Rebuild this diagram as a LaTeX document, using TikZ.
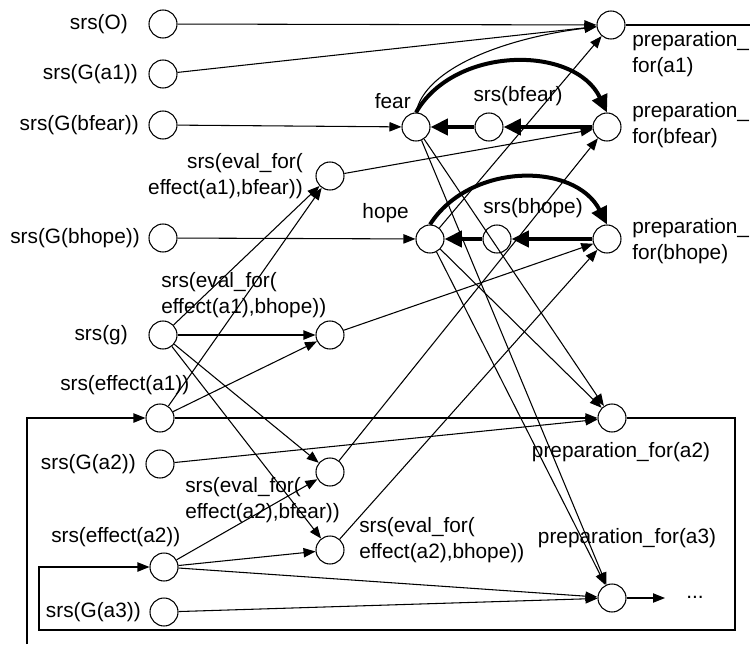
\documentclass[tikz,border=0pt]{standalone}
\usepackage{fontspec}
\setmainfont{Liberation Sans}
\usetikzlibrary{arrows.meta}
\begin{document}
\begin{tikzpicture}[x=0.75pt,y=-0.75pt,
  st/.style={circle,draw,line width=0.8pt,minimum size=21pt,inner sep=0pt},
  lbl/.style={inner sep=0pt,font=\fontsize{15.6}{19.5}\selectfont},
  conn/.style={line width=0.8pt,-{Triangle[length=9pt,width=7pt]}},
  strong/.style={line width=3pt,-{Triangle[length=13pt,width=12pt]}},
  wire/.style={line width=0.8pt}]
\useasboundingbox (0,0) rectangle (750,644);

% state nodes
\node[st] (O)    at (163,24)  {};
\node[st] (Ga1)  at (163,74)  {};
\node[st] (Gbf)  at (163,125) {};
\node[st] (E1f)  at (330,176) {};
\node[st] (Gbh)  at (163,238) {};
\node[st] (g)    at (163,335) {};
\node[st] (E1h)  at (330,335) {};
\node[st] (eff1) at (160,418) {};
\node[st] (Ga2)  at (160,464) {};
\node[st] (E2f)  at (330,472) {};
\node[st] (E2h)  at (330,550) {};
\node[st] (eff2) at (164,567) {};
\node[st] (Ga3)  at (164,612) {};
\node[st] (fear) at (416,127) {};
\node[st] (sbf)  at (489,127) {};
\node[st] (pbf)  at (607,127) {};
\node[st] (pa1)  at (611,25)  {};
\node[st] (hope) at (430,239) {};
\node[st] (sbh)  at (497,239) {};
\node[st] (pbh)  at (607,239) {};
\node[st] (pa2)  at (612,418) {};
\node[st] (pa3)  at (612,598) {};

% labels
\node[lbl,anchor=east] (tO)   at (128,24)  {srs(O)};
\node[lbl,anchor=east] (tGa1) at (138,74)  {srs(G(a1))};
\node[lbl,anchor=east] (tGbf) at (139,125) {srs(G(bfear))};
\node[lbl,anchor=east,align=right] (tE1f) at (303,176) {srs(eval\_for(\\effect(a1),bfear))};
\node[lbl,anchor=east] (tGbh) at (140,238) {srs(G(bhope))};
\node[lbl,anchor=west,align=left] (tE1h) at (161,295) {srs(eval\_for(\\effect(a1),bhope))};
\node[lbl,anchor=east] (tg)   at (128,335) {srs(g)};
\node[lbl,anchor=west] (teff1) at (60,385) {srs(effect(a1))};
\node[lbl,anchor=east] (tGa2) at (136,464) {srs(G(a2))};
\node[lbl,anchor=west,align=left] (tE2f) at (185,500) {srs(eval\_for(\\effect(a2),bfear))};
\node[lbl,anchor=west] (teff2) at (51,537) {srs(effect(a2))};
\node[lbl,anchor=west,align=left] (tE2h) at (359,540) {srs(eval\_for(\\effect(a2),bhope))};
\node[lbl,anchor=east] (tGa3) at (141,612) {srs(G(a3))};
\node[lbl,anchor=east] (tfear) at (411,101) {fear};
\node[lbl] (tsbf) at (518,96) {srs(bfear)};
\node[lbl,anchor=east] (thope) at (409,213) {hope};
\node[lbl] (tsbh) at (533,208) {srs(bhope)};
\node[lbl,anchor=west,align=left] (tpa1) at (632,54)  {preparation\_\\for(a1)};
\node[lbl,anchor=west,align=left] (tpbf) at (632,125) {preparation\_\\for(bfear)};
\node[lbl,anchor=west,align=left] (tpbh) at (632,241) {preparation\_\\for(bhope)};
\node[lbl] (tpa2) at (621,452) {preparation\_for(a2)};
\node[lbl] (tpa3) at (627,538) {preparation\_for(a3)};
\node[lbl] (tdots) at (695,597) {...};

% free ends and bends
\coordinate (outR) at (750,25);
\coordinate (inB)  at (27,644);
\coordinate (lpR)  at (735,418);
\coordinate (lpRB) at (735,630);
\coordinate (lpLB) at (39,630);
\coordinate (lpL)  at (39,567);
\coordinate (dots) at (665,598);

% sensor inputs
\draw[conn] (O) -- (pa1);
\draw[conn] (Ga1) -- (pa1);
\draw[conn] (Gbf) -- (fear);
\draw[conn] (Gbh) -- (hope);
\draw[conn] (Ga2) -- (pa2);
\draw[conn] (Ga3) -- (pa3);

% fear / hope loops
\draw[conn] (fear.north) .. controls (425,68) and (505,38) .. (pa1);
\draw[strong] (fear.north) .. controls (455,45) and (575,45) .. (pbf.north);
\draw[strong] (pbf) -- (sbf);
\draw[strong] (sbf) -- (fear);
\draw[strong] (hope.north) .. controls (470,162) and (575,162) .. (pbh.north);
\draw[strong] (pbh) -- (sbh);
\draw[strong] (sbh) -- (hope);

% evaluations
\draw[conn] (g) -- (E1f);
\draw[conn] (g) -- (E1h);
\draw[conn] (g) -- (E2f);
\draw[conn] (g) -- (E2h);
\draw[conn] (eff1) -- (E1f);
\draw[conn] (eff1) -- (E1h);
\draw[conn] (eff2) -- (E2f);
\draw[conn] (eff2) -- (E2h);
\draw[conn] (E1f) -- (pbf);
\draw[conn] (E1h) -- (pbh);
\draw[conn] (E2f) -- (pbf);
\draw[conn] (E2h) -- (pbh);

% action preparations
\draw[conn] (hope) -- (pa1);
\draw[conn] (eff1) -- (pa2);
\draw[conn] (eff2) -- (pa3);
\draw[conn] (fear) -- (pa2);
\draw[conn] (fear) -- (pa3);
\draw[conn] (hope) -- (pa2);
\draw[conn] (hope) -- (pa3);

% feedback from preparations to effects
\draw[wire] (pa1) -- (outR);
\draw[conn] (inB) |- (eff1);
\draw[conn] (pa2) -- (lpR) -- (lpRB) -- (lpLB) -- (lpL) -- (eff2);
\draw[conn] (pa3) -- (dots);
\end{tikzpicture}
\end{document}
